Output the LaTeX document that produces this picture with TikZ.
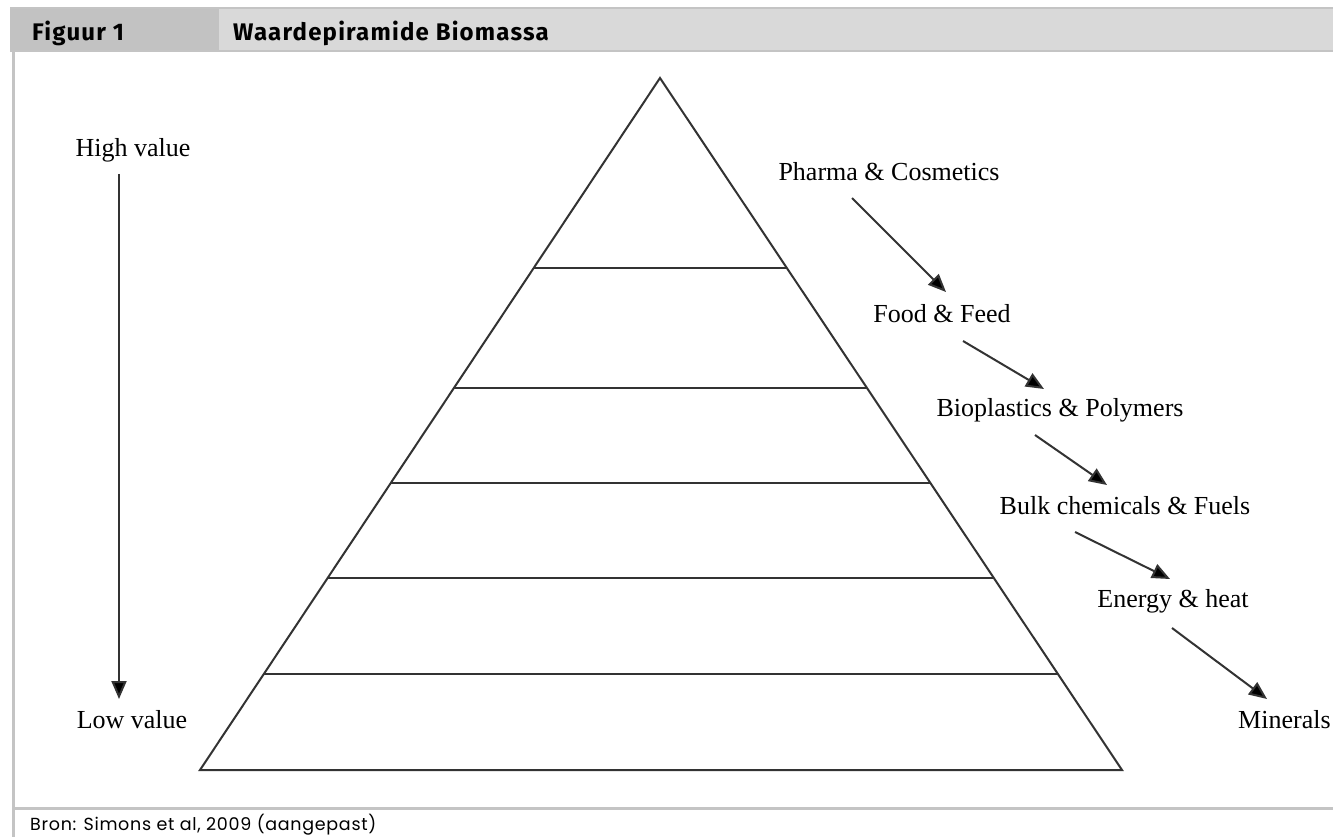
\documentclass[tikz,border=0pt]{standalone}
\usepackage{fontspec}
\setmainfont{Liberation Serif}
\newfontfamily\hdrfont[LetterSpace=5]{Fira Sans}
\newfontfamily\srcfont[LetterSpace=4]{Poppins}
\usetikzlibrary{arrows.meta}
\definecolor{hdrdark}{HTML}{C2C2C2}
\definecolor{hdrlight}{HTML}{D9D9D9}
\definecolor{frame}{HTML}{C4C4C4}
\definecolor{ink}{HTML}{333333}
\tikzset{
  lbl/.style={font=\fontsize{26}{30}\selectfont, text=black, inner sep=0pt},
  hdr/.style={font=\hdrfont\bfseries\fontsize{24}{28}\selectfont, inner sep=0pt, anchor=base west},
  pyr/.style={draw=ink, line width=2pt, line join=miter},
  flow/.style={draw=ink, line width=2pt, -{Triangle[length=18pt,width=15pt,fill=black]}},
}
\begin{document}
\begin{tikzpicture}[x=1pt,y=-1pt]
\useasboundingbox (0,0) rectangle (1333,837);
\fill[white] (0,0) rectangle (1333,837);
% header band
\fill[hdrdark] (10,7) rectangle (219,52);
\fill[hdrlight] (219,7) rectangle (1333,52);
\draw[frame, line width=1.5pt] (10,8) -- (1333,8);
\draw[frame, line width=1.5pt] (10,51) -- (1333,51);
% frame
\draw[frame, line width=3pt] (13,52) -- (13,837);
\draw[frame, line width=3pt] (13,808) -- (1333,808);
\node[hdr] (fig) at (32,41) {Figuur 1};
\node[hdr] (title) at (233,41) {Waardepiramide Biomassa};
\node[font=\srcfont\fontsize{17.5}{20}\selectfont, anchor=base west, inner sep=0pt] (src) at (30,830) {Bron: Simons et al, 2009 (aangepast)};
% pyramid
\coordinate (apex) at (660,78);
\coordinate (bl) at (200,770);
\coordinate (br) at (1122,770);
\draw[pyr] (apex) -- (bl) -- (br) -- cycle;
\foreach \yy in {268,388,483,578,674}{
  \pgfmathsetmacro{\dx}{0.66474*(\yy-78)}
  \pgfmathsetmacro{\dxr}{0.66763*(\yy-78)}
  \draw[pyr] ({660-\dx},\yy) -- ({660+\dxr},\yy);
}
% value axis
\node[lbl] (high) at (133,150) {High value};
\node[lbl] (low) at (132,720) {Low value};
\draw[flow] (119,174) -- (119,699);
% labels
\node[lbl] (pharma) at (889,172) {Pharma \& Cosmetics};
\node[lbl] (food) at (942,314) {Food \& Feed};
\node[lbl] (bio) at (1060,410) {Bioplastics \& Polymers};
\node[lbl] (bulk) at (1125,506) {Bulk chemicals \& Fuels};
\node[lbl] (energy) at (1173,601) {Energy \& heat};
\node[lbl, anchor=west] (min) at (1238,720) {Minerals};
\coordinate (a1s) at (852,198); \coordinate (a1e) at (946,292);
\coordinate (a2s) at (963,341); \coordinate (a2e) at (1044,389);
\coordinate (a3s) at (1035,435); \coordinate (a3e) at (1107,485);
\coordinate (a4s) at (1075,532); \coordinate (a4e) at (1170,579);
\coordinate (a5s) at (1172,628); \coordinate (a5e) at (1267,699);
\draw[flow] (a1s) -- (a1e);
\draw[flow] (a2s) -- (a2e);
\draw[flow] (a3s) -- (a3e);
\draw[flow] (a4s) -- (a4e);
\draw[flow] (a5s) -- (a5e);
\end{tikzpicture}
\end{document}
